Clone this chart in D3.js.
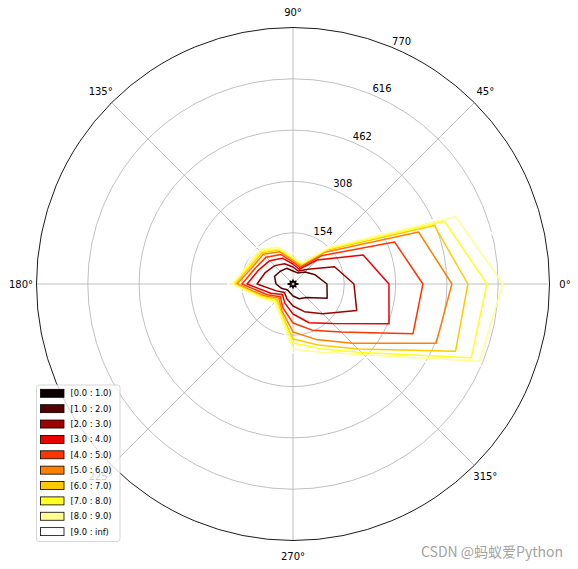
<!DOCTYPE html>
<html>
<head>
<meta charset="utf-8">
<script src="https://cdn.jsdelivr.net/npm/d3@7"></script>
<style>
  html, body { margin: 0; padding: 0; background: #fff; }
  svg { display: block; font-family: "DejaVu Sans", sans-serif; }
</style>
</head>
<body>
<svg id="chart" width="578" height="569"></svg>
<script>
// ---- data (cumulative counts per direction, one array per speed bin) ----
const directions = [0, 22.5, 45, 67.5, 90, 112.5, 135, 157.5, 180, 202.5, 225, 247.5, 270, 292.5, 315, 337.5];
const binLabels = ["[0.0 : 1.0)", "[1.0 : 2.0)", "[2.0 : 3.0)", "[3.0 : 4.0)", "[4.0 : 5.0)",
                   "[5.0 : 6.0)", "[6.0 : 7.0)", "[7.0 : 8.0)", "[8.0 : 9.0)", "[9.0 : inf)"];
const bin0 = [15, 6, 12, 6, 12, 6, 12, 6, 15, 6, 12, 6, 12, 6, 12, 6];
const bin1 = [102, 72, 51, 36, 39, 51, 54, 60, 51, 36, 24, 27, 36, 48, 57, 111];
const bin2 = [183, 135, 63, 42, 51, 66, 78, 90, 108, 54, 36, 48, 66, 90, 126, 207];
const bin3 = [288, 228, 102, 48, 60, 84, 99, 111, 138, 72, 45, 63, 90, 126, 168, 312];
const bin4 = [390, 330, 120, 54, 66, 96, 114, 123, 153, 84, 54, 78, 117, 150, 204, 390];
const bin5 = [477, 408, 135, 59, 72, 105, 126, 132, 168, 93, 60, 87, 144, 180, 252, 465];
const bin6 = [525, 459, 144, 62, 75, 111, 132, 138, 174, 99, 66, 93, 165, 198, 276, 528];
const bin7 = [582, 492, 150, 65, 78, 114, 138, 143, 180, 102, 72, 96, 177, 210, 291, 579];
const bin8 = [630, 528, 156, 68, 81, 120, 144, 147, 183, 108, 78, 102, 195, 222, 300, 606];
const bin9 = [770, 566, 168, 78, 92, 132, 156, 159, 195, 120, 90, 114, 207, 234, 312, 650];
const radialTicks = [154, 308, 462, 616, 770];
const angleTicks = [0, 45, 90, 135, 180, 225, 270, 315];
const binColors = ["#0b0000", "#550000", "#9f0000", "#ea0000", "#ff3500",
                   "#ff8000", "#ffca00", "#ffff20", "#ffff8f", "#ffffff"];
const watermark = "CSDN @蚂蚁爱Python";

const bins = [bin0, bin1, bin2, bin3, bin4, bin5, bin6, bin7, bin8, bin9];

// ---- layout ----
const svg = d3.select("#chart");
const cx = 293, cy = 284, R = 256.5;
const rMax = 770;
const r = d3.scaleLinear().domain([0, rMax]).range([0, R]);
const toRad = d => d * Math.PI / 180;
// d3 radial angle: clockwise from 12 o'clock; data angle: counter-clockwise from east
const dAngle = deg => Math.PI / 2 - toRad(deg);

const g = svg.append("g").attr("transform", `translate(${cx},${cy})`);

// grid
const grid = g.append("g");
radialTicks.slice(0, -1).forEach(t => {
  grid.append("circle").attr("r", r(t)).attr("fill", "none")
    .attr("stroke", "#b0b0b0").attr("stroke-width", 0.8);
});
angleTicks.forEach(a => {
  grid.append("line")
    .attr("x1", 0).attr("y1", 0)
    .attr("x2", R * Math.cos(toRad(a))).attr("y2", -R * Math.sin(toRad(a)))
    .attr("stroke", "#b0b0b0").attr("stroke-width", 0.8);
});

// contour lines
const line = d3.lineRadial()
  .angle((d, i) => dAngle(directions[i]))
  .radius(d => r(d))
  .curve(d3.curveLinearClosed);
bins.forEach((vals, i) => {
  g.append("path").attr("d", line(vals))
    .attr("fill", "none").attr("stroke", binColors[i])
    .attr("stroke-width", 1.5).attr("stroke-linejoin", "round");
});

// spine
g.append("circle").attr("r", R).attr("fill", "none")
  .attr("stroke", "#000").attr("stroke-width", 0.9);

// angle labels
angleTicks.forEach(a => {
  g.append("text")
    .attr("x", 272 * Math.cos(toRad(a))).attr("y", -272 * Math.sin(toRad(a)))
    .attr("text-anchor", "middle").attr("dominant-baseline", "central")
    .attr("font-size", 10).attr("fill", "#000")
    .text(a + "°");
});

// radial labels at 67.5°
const la = toRad(67.5);
radialTicks.forEach(t => {
  g.append("text")
    .attr("x", r(t) * Math.cos(la) + 10.5).attr("y", -r(t) * Math.sin(la) - 5.5)
    .attr("text-anchor", "middle").attr("dominant-baseline", "central")
    .attr("font-size", 10).attr("fill", "#000")
    .text(t);
});

// legend
const lg = svg.append("g");
lg.append("rect").attr("x", 36.5).attr("y", 385).attr("width", 83.5).attr("height", 156.5)
  .attr("rx", 2.5).attr("fill", "#fff").attr("fill-opacity", 0.8)
  .attr("stroke", "#cccccc").attr("stroke-width", 0.8);
binLabels.forEach((lab, i) => {
  const y = 393.3 + i * 15.37;
  lg.append("rect").attr("x", 40.5).attr("y", y - 4).attr("width", 23.5).attr("height", 8)
    .attr("fill", binColors[i]).attr("stroke", "#000").attr("stroke-width", 0.8);
  lg.append("text").attr("x", 70.5).attr("y", y)
    .attr("dominant-baseline", "central").attr("font-size", 8.33).attr("fill", "#000")
    .text(lab);
});

// watermark
svg.append("text").attr("x", 563).attr("y", 557)
  .attr("text-anchor", "end").attr("font-size", 14)
  .attr("font-family", "'Noto Sans CJK SC', 'Noto Sans', sans-serif")
  .attr("fill", "#a3a3a3").text(watermark);
</script>
</body>
</html>
